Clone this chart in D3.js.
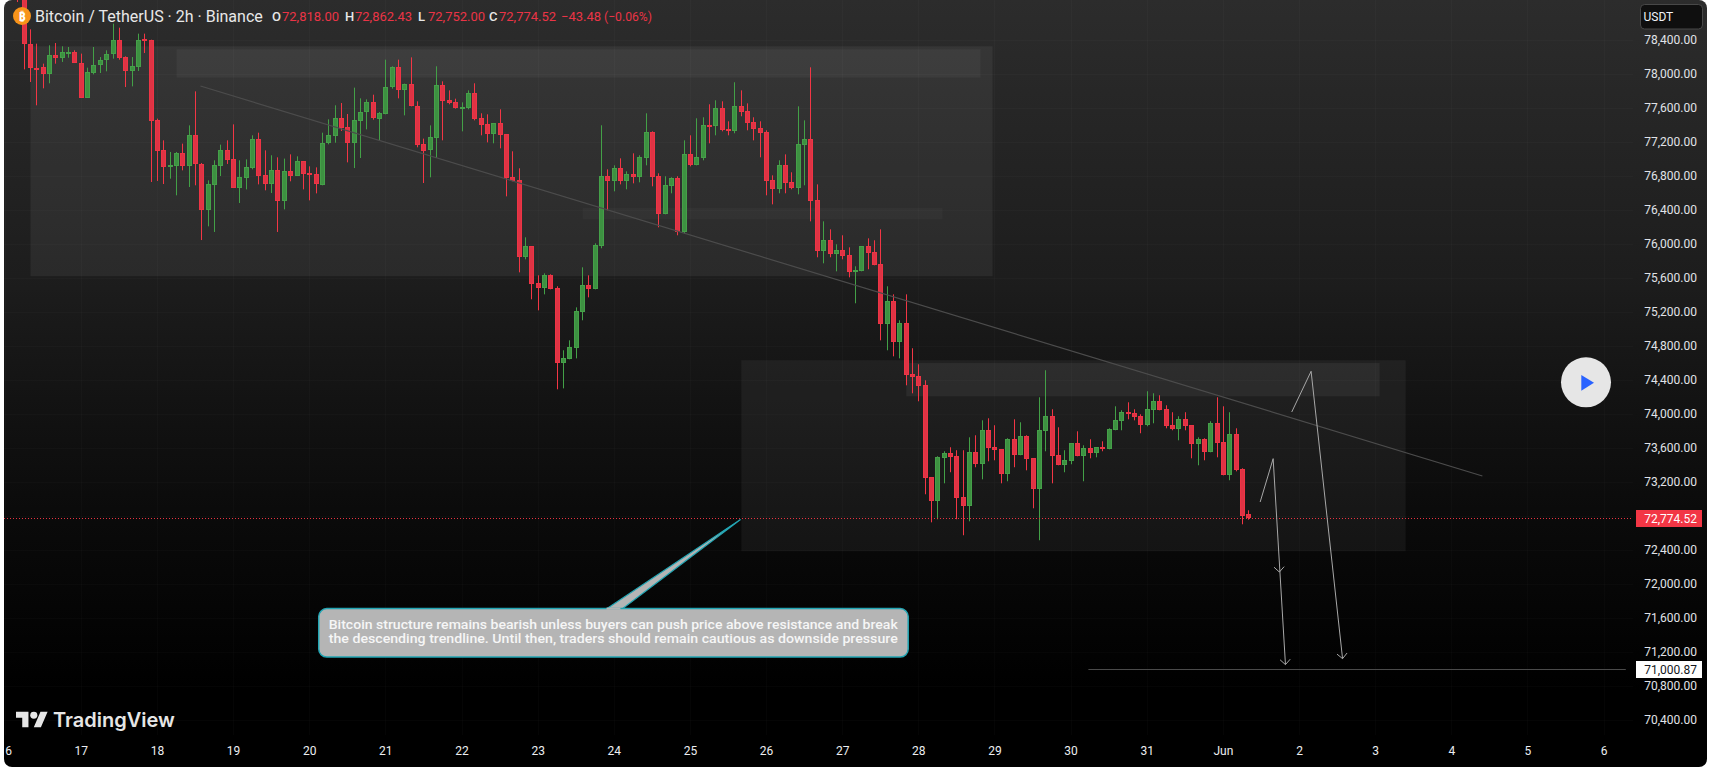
<!DOCTYPE html>
<html>
<head>
<meta charset="utf-8">
<style>
  html, body { margin: 0; padding: 0; background: #fff; overflow: hidden; }
  svg { display: block; }
  text { font-family: Roboto, "Noto Sans", sans-serif; }
</style>
<script src="https://cdn.jsdelivr.net/npm/d3@7/dist/d3.min.js"></script>
</head>
<body>
<svg id="chart" width="1711" height="767"></svg>
<script>
// BTC/USDT 2h candles, oldest first
const opens = [79200,78900,78352,78070,78074,77995,78223,78184,78242,78250,78129,77713,78007,78101,78160,78231,78399,78191,78031,78078,78403,78391,77450,77097,76913,76913,77062,76913,77274,76933,76395,76689,76913,77097,76991,76654,76772,76889,77227,76803,76701,76862,76501,76850,76795,76968,76827,76815,76697,77180,77266,77474,77368,77184,77442,77544,77662,77474,77533,77839,78074,77803,77874,77623,77176,77097,77238,77862,77686,77662,77595,77591,77768,77474,77403,77285,77415,77285,76780,76745,75843,75968,75533,75474,75627,75474,74592,74639,74768,75192,75509,75462,75968,76792,76733,76886,76733,76815,76780,77003,77309,76792,76345,76674,76768,76133,77050,76921,77003,77392,77380,77592,77345,77321,77615,77556,77427,77356,77309,76745,76639,76921,76721,76650,77156,77227,76509,75909,76039,75874,75921,75862,75662,75674,75968,75897,75756,75050,75321,74839,75062,74463,74439,74333,73251,72969,73474,73533,73498,73016,72910,73545,73404,73804,73604,73580,73286,73698,73510,73733,73474,73110,73792,73969,73510,73392,73439,73651,73498,73592,73533,73604,73580,73804,73910,74016,74004,73969,73863,74039,74145,74051,73863,73816,73933,73863,73639,73698,73545,73886,73663,73274,73757,73345,72818];
const highs = [79300,78960,78521,78352,78117,78333,78360,78321,78313,78274,78235,78070,78313,78195,78274,78588,78540,78203,78195,78470,78470,78399,77470,77215,77078,77078,77176,77391,77791,76948,76744,76980,77164,77215,77403,76980,76991,77274,77305,77097,77039,77015,77000,77050,77027,76968,76909,76897,77305,77462,77627,77654,77525,77835,77709,77697,77752,77548,78164,78086,78164,77882,78191,77674,77235,77391,78086,77909,77803,77705,77662,77803,77886,77533,77521,77419,77580,77285,77086,76886,76074,75968,75627,75650,75639,75498,74745,74862,75250,75721,75627,76003,77392,76874,76921,77003,76850,77062,77039,77533,77321,76827,76792,76780,76792,77215,77274,77474,77486,77639,77686,77674,77439,77898,77803,77650,77486,77439,77333,76803,76980,77050,76839,77615,77450,78074,76697,76262,76168,75992,76098,75956,75733,75968,76062,76039,76168,75498,75403,75098,75403,74769,74580,74392,73251,73498,73557,73604,73569,73569,73721,73745,73921,73945,73863,73580,73710,73933,73898,73745,73474,74192,74510,74051,73839,73569,73651,73792,73627,73698,73604,73674,73827,74086,74039,74133,74051,73992,74263,74239,74216,74098,74016,73969,74016,73863,73721,73710,73910,74192,74086,74016,73827,73357,72862.43];
const lows = [78842,78050,77901,77627,77827,77886,78117,78137,78187,78125,77713,77713,77991,78007,78027,78176,78164,77842,77850,78031,78242,76725,76737,76701,76764,76568,76862,76666,76686,76042,76203,76137,76795,76937,76654,76478,76638,76874,76697,76627,76595,76137,76403,76733,76795,76638,76509,76591,76686,77168,77187,77325,76956,76889,77007,77344,77458,77219,77521,77823,77709,77509,77615,77133,76713,76780,77007,77215,77639,77588,77321,77580,77450,77274,77191,77180,77121,76556,76733,75662,75815,75345,75215,75403,75462,74286,74297,74639,74650,75098,75368,75462,75945,76392,76615,76697,76639,76709,76721,76921,76674,76192,76345,76592,76098,76121,76909,76921,76980,77180,77274,77321,77274,77298,77498,77333,77215,77015,76568,76462,76592,76592,76639,76580,76686,76262,75839,75768,75839,75674,75815,75603,75298,75674,75698,75745,74862,74745,74674,74650,74333,74239,74145,73051,72721,72757,73180,73310,72757,72569,72733,73369,73227,73439,73451,73180,73204,73369,73510,73333,72886,72510,73557,73180,73392,73310,73404,73498,73204,73474,73486,73557,73580,73804,73804,73933,73921,73769,73851,73886,74039,73827,73804,73686,73804,73474,73392,73451,73545,73486,73274,73216,73321,72698,72752];
const closes = [78950,78352,78066,78062,77995,78223,78184,78250,78250,78125,77713,78015,78105,78164,78235,78399,78184,78031,78086,78399,78395,77442,77089,76901,76921,77062,76913,77274,76929,76395,76697,76921,77097,76983,76654,76780,76897,77227,76795,76697,76862,76501,76850,76795,76968,76819,76807,76697,77187,77274,77474,77356,77184,77450,77552,77662,77474,77541,77846,78074,77803,77874,77615,77168,77097,77250,77862,77674,77650,77591,77603,77768,77462,77391,77285,77415,77274,76768,76733,75843,75968,75521,75474,75627,75462,74592,74650,74780,75203,75509,75462,75980,76792,76733,76886,76733,76815,76780,77015,77309,76780,76345,76686,76768,76133,77050,76921,77015,77392,77380,77592,77333,77321,77615,77545,77415,77345,77298,76733,76639,76921,76709,76650,77168,77227,76498,75909,76039,75874,75921,75850,75662,75686,75968,75886,75745,75050,75321,74839,75062,74450,74427,74321,73239,72969,73486,73533,73486,73004,72910,73545,73404,73804,73592,73569,73286,73698,73510,73733,73463,73110,73804,73969,73498,73392,73451,73651,73498,73592,73533,73604,73580,73816,73921,74016,74004,73957,73863,74051,74145,74039,73851,73816,73933,73851,73639,73698,73545,73886,73651,73274,73757,73333,72792,72774.52];

const priceTicks = [78400,78000,77600,77200,76800,76400,76000,75600,75200,74800,74400,74000,73600,73200,72800,72400,72000,71600,71200,70800,70400];
const dayLabels = ["16","17","18","19","20","21","22","23","24","25","26","27","28","29","30","31","Jun","2","3","4","5","6"];

const lastPrice = 72774.52;
const targetPrice = 71000.87;
const legendValues = ["72,818.00","72,862.43","72,752.00","72,774.52"];

// Annotations, in bar numbers and prices
const zoneBars = [[2.07,153.7],[25.1,151.8],[89.1,145.8],[114.1,218.8],[140.1,214.7]];
const zonePrices = [[78321,75616],[78286,77953],[76419,76286],[74627,72380],[74595,74203]];
const zoneAlphas = [0.06,0.045,0.028,0.05,0.055];
const trendBars = [28.86,230.9];
const trendPrices = [77854,73266];
const arrowOneBars = [195.87,197.92,199.86];
const arrowOnePrices = [72960,73470,71047];
const arrowOneMid = [198.9,72136];
const arrowTwoBars = [200.85,203.9,208.86];
const arrowTwoPrices = [74019,74498,71117];
const targetBars = [168.8,253.5];
const calloutBars = [47.5,140.4];
const calloutPrices = [71706,71136];
const calloutTip = [113.97,72753];
const calloutBase = [92.7,95.2];
const calloutLines = [
  "Bitcoin structure remains bearish unless buyers can push price above resistance and break",
  "the descending trendline. Until then, traders should remain cautious as downside pressure"
];

const W = 1711, H = 767, plotLeft = 4, plotRight = 1633, frameRight = 1707;
const HOUR = 3600e3;
const firstBar = Date.UTC(2026, 4, 16, 4);
const firstDay = Date.UTC(2026, 4, 16);
const dayTicks = dayLabels.map((_, i) => new Date(firstDay + i * 24 * HOUR));

const x = d3.scaleUtc()
  .domain([Date.UTC(2026, 4, 17), Date.UTC(2026, 5, 6)])
  .range([80.8, 1603.6]);
const barX = n => x(new Date(firstBar + n * 2 * HOUR));
const y = d3.scaleLinear().domain([70400, 78400]).range([719.6, 39.6]);

const svg = d3.select("#chart");
const defs = svg.append("defs");

const bg = defs.append("linearGradient").attr("id", "panelFill")
  .attr("x1", 0).attr("y1", 0).attr("x2", 0).attr("y2", 1);
[["0%","#2c2c2c"],["36%","#1d1d1d"],["52%","#131313"],["68%","#0a0a0a"],["90%","#000000"],["100%","#000000"]]
  .forEach(s => bg.append("stop").attr("offset", s[0]).attr("stop-color", s[1]));

defs.append("clipPath").attr("id", "plotClip").append("rect")
  .attr("x", plotLeft).attr("y", 0).attr("width", plotRight - plotLeft).attr("height", H);
defs.append("clipPath").attr("id", "frameClip").append("rect")
  .attr("x", plotLeft).attr("y", 0).attr("width", frameRight - plotLeft).attr("height", H)
  .attr("rx", 8);

const frame = svg.append("g").attr("clip-path", "url(#frameClip)");
frame.append("rect").attr("x", plotLeft).attr("y", 0)
  .attr("width", frameRight - plotLeft).attr("height", H)
  .attr("fill", "url(#panelFill)");

const plot = frame.append("g").attr("clip-path", "url(#plotClip)");

// Faint grid
plot.append("g").selectAll("line").data(dayTicks).join("line")
  .attr("x1", d => Math.round(x(d)) + 0.5).attr("x2", d => Math.round(x(d)) + 0.5)
  .attr("y1", 0).attr("y2", 735)
  .attr("stroke", "#fff").attr("stroke-opacity", 0.018);
plot.append("g").selectAll("line").data(priceTicks).join("line")
  .attr("x1", plotLeft).attr("x2", plotRight)
  .attr("y1", d => Math.round(y(d)) + 0.5).attr("y2", d => Math.round(y(d)) + 0.5)
  .attr("stroke", "#fff").attr("stroke-opacity", 0.018);

// Shaded supply and demand zones
plot.append("g").selectAll("rect").data(zoneBars).join("rect")
  .attr("x", d => barX(d[0]))
  .attr("width", d => barX(d[1]) - barX(d[0]))
  .attr("y", (d, i) => y(zonePrices[i][0]))
  .attr("height", (d, i) => y(zonePrices[i][1]) - y(zonePrices[i][0]))
  .attr("fill", "#fff")
  .attr("fill-opacity", (d, i) => zoneAlphas[i]);

// Candles
const UP = "#43a047", UP_FILL = "#3d9141", UP_EDGE = "#45a049";
const DOWN = "#f23645", DOWN_FILL = "#df3344", DOWN_EDGE = "#ee3445";
const bars = d3.range(opens.length);
const candle = plot.append("g").selectAll("g").data(bars).join("g");
candle.append("rect")
  .attr("x", i => Math.round(barX(i)))
  .attr("width", 1)
  .attr("y", i => y(highs[i]))
  .attr("height", i => y(lows[i]) - y(highs[i]))
  .attr("fill", i => closes[i] >= opens[i] ? UP : DOWN);
candle.append("rect")
  .attr("x", i => Math.round(barX(i)) - 1.5)
  .attr("width", 4)
  .attr("y", i => Math.round(y(Math.max(opens[i], closes[i]))) + 0.5)
  .attr("height", i => Math.max(1, Math.round(y(Math.min(opens[i], closes[i])) - y(Math.max(opens[i], closes[i]))) - 1))
  .attr("fill", i => closes[i] >= opens[i] ? UP_FILL : DOWN_FILL)
  .attr("stroke", i => closes[i] >= opens[i] ? UP_EDGE : DOWN_EDGE)
  .attr("stroke-width", 1);

// Descending trendline
plot.append("line")
  .attr("x1", barX(trendBars[0])).attr("y1", y(trendPrices[0]))
  .attr("x2", barX(trendBars[1])).attr("y2", y(trendPrices[1]))
  .attr("stroke", "#4c4c4c").attr("stroke-width", 1.2);

// Last price marker line
plot.append("line")
  .attr("x1", plotLeft).attr("x2", plotRight)
  .attr("y1", Math.round(y(lastPrice)) + 0.5).attr("y2", Math.round(y(lastPrice)) + 0.5)
  .attr("stroke", DOWN).attr("stroke-opacity", 0.95).attr("stroke-width", 1).attr("stroke-dasharray", "1 2");

// Target level
frame.append("line")
  .attr("x1", barX(targetBars[0])).attr("x2", barX(targetBars[1]))
  .attr("y1", Math.round(y(targetPrice)) + 0.5).attr("y2", Math.round(y(targetPrice)) + 0.5)
  .attr("stroke", "#4a4a4a").attr("stroke-width", 1);

// Projected path arrows
const pathLine = d3.line().x(d => d[0]).y(d => d[1]);
function arrowHead(tip, from) {
  const a = Math.atan2(tip[1] - from[1], tip[0] - from[0]);
  const s = 7.2, spread = 0.78;
  return [
    [tip[0] - s * Math.cos(a - spread), tip[1] - s * Math.sin(a - spread)],
    tip,
    [tip[0] - s * Math.cos(a + spread), tip[1] - s * Math.sin(a + spread)]
  ];
}
function drawArrow(barsList, prices) {
  const pts = barsList.map((b, i) => [barX(b), y(prices[i])]);
  plot.append("path").attr("d", pathLine(pts))
    .attr("fill", "none").attr("stroke", "#a8a8a8").attr("stroke-width", 1);
  plot.append("path").attr("d", pathLine(arrowHead(pts[2], pts[1])))
    .attr("fill", "none").attr("stroke", "#a8a8a8").attr("stroke-width", 1);
  return pts;
}
const arrowOne = drawArrow(arrowOneBars, arrowOnePrices);
drawArrow(arrowTwoBars, arrowTwoPrices);
plot.append("path")
  .attr("d", pathLine(arrowHead([barX(arrowOneMid[0]), y(arrowOneMid[1])], arrowOne[1])))
  .attr("fill", "none").attr("stroke", "#a8a8a8").attr("stroke-width", 1);

// Callout with pointer
const cx0 = barX(calloutBars[0]), cx1 = barX(calloutBars[1]);
const cy0 = y(calloutPrices[0]), cy1 = y(calloutPrices[1]);
const CALLOUT_FILL = "#b5b5b5", CALLOUT_EDGE = "#22a5b3";
const callout = plot.append("g");
callout.append("path")
  .attr("d", pathLine([[barX(calloutBase[0]), cy0 + 1], [barX(calloutTip[0]), y(calloutTip[1])], [barX(calloutBase[1]), cy0 + 1]]))
  .attr("fill", CALLOUT_FILL).attr("stroke", CALLOUT_EDGE).attr("stroke-width", 1.2);
callout.append("rect")
  .attr("x", cx0).attr("y", cy0).attr("width", cx1 - cx0).attr("height", cy1 - cy0)
  .attr("rx", 8).attr("fill", CALLOUT_FILL).attr("stroke", CALLOUT_EDGE).attr("stroke-width", 1.5);
callout.append("path")
  .attr("d", pathLine([[barX(calloutBase[0]) + 1, cy0], [barX(calloutBase[1]) - 1, cy0]]))
  .attr("stroke", CALLOUT_FILL).attr("stroke-width", 2);
callout.selectAll("text").data(calloutLines).join("text")
  .attr("x", cx0 + 10)
  .attr("y", (d, i) => 628.8 + i * 14)
  .attr("fill", "#f6f6f6")
  .attr("font-size", 13.5)
  .attr("font-weight", 500)
  .attr("textLength", 569)
  .attr("lengthAdjust", "spacingAndGlyphs")
  .text(d => d);

// Price axis
const priceAxis = d3.axisRight(y).tickValues(priceTicks).tickFormat(d3.format(",.2f")).tickSize(0).tickPadding(0);
const pa = frame.append("g").attr("transform", "translate(1697,0)").call(priceAxis);
pa.select(".domain").remove();
pa.selectAll("text")
  .attr("text-anchor", "end").attr("fill", "#e0e3e8")
  .style("font-family", "Roboto, sans-serif").style("font-size", "12px");

// Date axis
const timeAxis = d3.axisBottom(x).tickValues(dayTicks)
  .tickFormat((d, i) => dayLabels[i]).tickSize(0).tickPadding(0);
const ta = frame.append("g").attr("transform", "translate(0,746)").call(timeAxis);
ta.select(".domain").remove();
ta.selectAll("text")
  .attr("fill", "#eceef1")
  .style("font-family", "Roboto, sans-serif").style("font-size", "12px");

// Price badges on the axis
function badge(top, fill, color, label) {
  frame.append("rect").attr("x", 1636).attr("y", top).attr("width", 66).attr("height", 17)
    .attr("fill", fill);
  frame.append("text").attr("x", 1697).attr("y", top + 12.7)
    .attr("text-anchor", "end").attr("fill", color).attr("font-size", 12).text(label);
}
badge(510, DOWN, "#ffffff", d3.format(",.2f")(lastPrice));
badge(661, "#ffffff", "#131722", d3.format(",.2f")(targetPrice));

// Currency button
frame.append("rect").attr("x", 1640.5).attr("y", 4.5).attr("width", 62).attr("height", 24.5)
  .attr("rx", 4).attr("fill", "#0f0f0f").attr("stroke", "#484848");
frame.append("text").attr("x", 1643.5).attr("y", 21).attr("fill", "#f0f3fa")
  .attr("font-size", 12).text("USDT");

// Symbol legend
frame.append("circle").attr("cx", 22).attr("cy", 16).attr("r", 9).attr("fill", "#f7931a");
frame.append("text").attr("x", 22).attr("y", 20.5).attr("text-anchor", "middle")
  .attr("fill", "#fff").attr("font-size", 12.5).attr("font-weight", 700).text("₿");
frame.append("text").attr("x", 35).attr("y", 21.5).attr("fill", "#e8e8e8")
  .attr("font-size", 16).text("Bitcoin / TetherUS · 2h · Binance");

const legendKeys = ["O", "H", "L", "C"];
const legendX = [272, 345, 418, 489];
const legend = frame.append("g").attr("font-size", 13);
legendKeys.forEach((k, i) => {
  legend.append("text").attr("x", legendX[i]).attr("y", 20.7)
    .attr("fill", "#e8e8e8").attr("font-weight", 500).text(k);
  legend.append("text").attr("x", legendX[i] + 10).attr("y", 20.7)
    .attr("fill", "#ea3446").text(legendValues[i]);
});
legend.append("text").attr("x", 561).attr("y", 20.7).attr("fill", "#ea3446").text("−43.48");
legend.append("text").attr("x", 604).attr("y", 20.7).attr("fill", "#ea3446")
  .attr("textLength", 48).attr("lengthAdjust", "spacingAndGlyphs").text("(−0.06%)");

// Replay button
frame.append("circle").attr("cx", 1586).attr("cy", 382.3).attr("r", 25).attr("fill", "#e6e6e6");
frame.append("path").attr("d", "M1581.3,375 L1594,382.8 L1581.3,390.7 Z").attr("fill", "#2962ff");

// Watermark
const brand = frame.append("g");
brand.append("g").attr("transform", "translate(16,708.2) scale(0.89,0.87)")
  .attr("fill", "#e6e6e6")
  .call(g => {
    g.append("path").attr("d", "M14 22H7V11H0V4h14v18zM28 22h-8l7.5-18h8L28 22z");
    g.append("circle").attr("cx", 20).attr("cy", 8).attr("r", 4);
  });
brand.append("text").attr("x", 53).attr("y", 727)
  .attr("fill", "#e6e6e6").attr("font-size", 20)
  .attr("font-weight", 600).style("font-family", "Inter, Roboto, sans-serif")
  .text("TradingView");
</script>
</body>
</html>
